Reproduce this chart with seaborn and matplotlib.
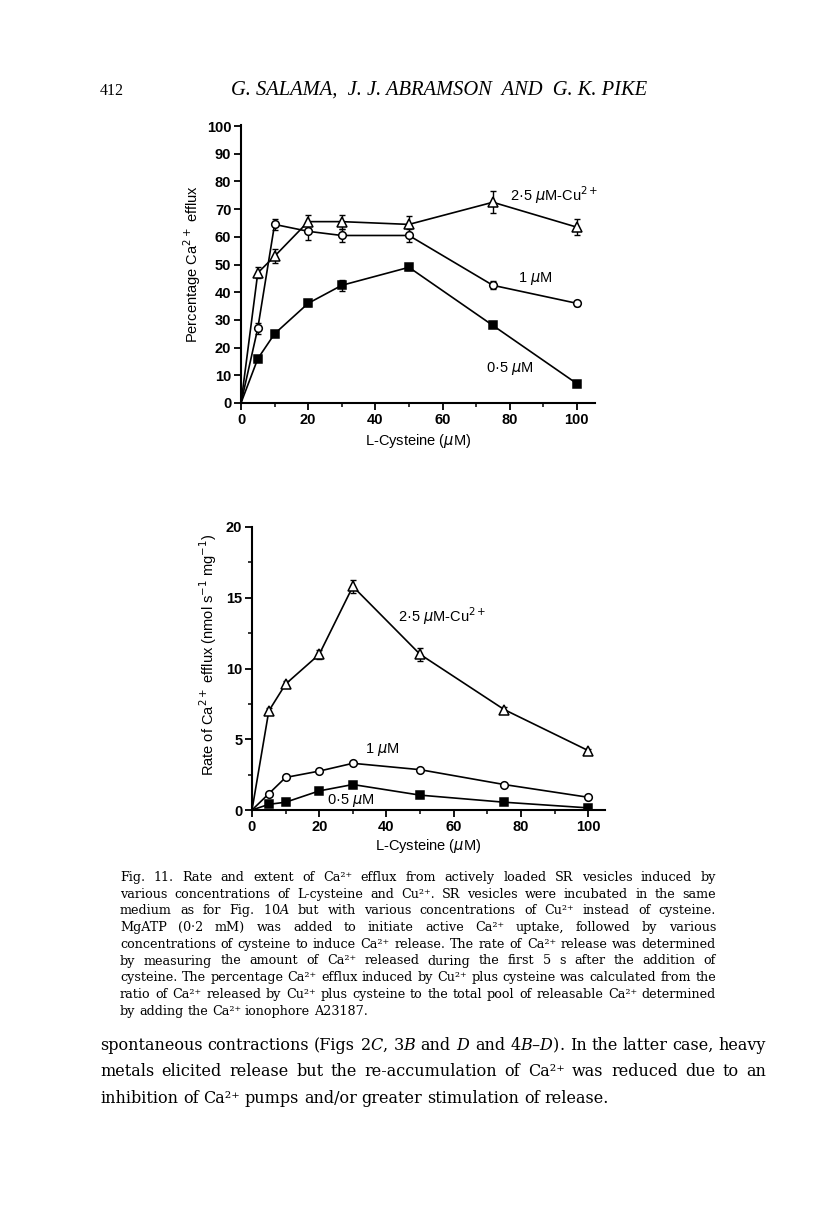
import numpy as np
import pandas as pd
import matplotlib
matplotlib.use("Agg")
import matplotlib.pyplot as plt
import seaborn as sns
from matplotlib.ticker import MultipleLocator

# Data
cys = [0, 5, 10, 20, 30, 50, 75, 100]

# Panel A: percentage Ca2+ efflux
pct_25 = [0, 47, 53, 65.5, 65.5, 64.5, 72.5, 63.5]
pct_25_err = [0, 2, 2.5, 2.5, 2.5, 3, 4, 3]
pct_1 = [0, 27, 64.5, 62, 60.5, 60.5, 42.5, 36]
pct_1_err = [0, 2, 2, 3, 2.5, 2.5, 1.5, 1]
pct_05 = [0, 16, 25, 36, 42.5, 49, 28, 7]
pct_05_err = [0, 0, 0, 1, 2, 1, 0, 0]

# Panel B: rate of Ca2+ efflux
rate_25 = [0, 7.0, 8.9, 11.0, 15.8, 11.0, 7.1, 4.2]
rate_25_err = [0, 0.2, 0.2, 0.3, 0.45, 0.45, 0.2, 0.1]
rate_1 = [0, 1.15, 2.3, 2.75, 3.3, 2.85, 1.8, 0.9]
rate_05 = [0, 0.4, 0.55, 1.35, 1.8, 1.05, 0.55, 0.15]

series_names = ["2·5 $\\mu$M-Cu$^{2+}$", "1 $\\mu$M", "0·5 $\\mu$M"]

caption_lines = [
    "Fig. 11. Rate and extent of Ca²⁺ efflux from actively loaded SR vesicles induced by",
    "various concentrations of L-cysteine and Cu²⁺. SR vesicles were incubated in the same",
    "medium as for Fig. 10$A$ but with various concentrations of Cu²⁺ instead of cysteine.",
    "MgATP (0·2 mM) was added to initiate active Ca²⁺ uptake, followed by various",
    "concentrations of cysteine to induce Ca²⁺ release. The rate of Ca²⁺ release was determined",
    "by measuring the amount of Ca²⁺ released during the first 5 s after the addition of",
    "cysteine. The percentage Ca²⁺ efflux induced by Cu²⁺ plus cysteine was calculated from the",
    "ratio of Ca²⁺ released by Cu²⁺ plus cysteine to the total pool of releasable Ca²⁺ determined",
    "by adding the Ca²⁺ ionophore A23187.",
]
body_lines = [
    "spontaneous contractions (Figs 2$C$, 3$B$ and $D$ and 4$B$–$D$). In the latter case, heavy",
    "metals elicited release but the re-accumulation of Ca²⁺ was reduced due to an",
    "inhibition of Ca²⁺ pumps and/or greater stimulation of release.",
]

W, H = 816, 1206
SANS = "Liberation Sans"
SERIF = ["Liberation Serif", "DejaVu Serif"]
TEXT_SERIF = ["DejaVu Serif"]

sns.set_style("ticks")
plt.rcParams["font.family"] = [SANS, "DejaVu Sans"]
plt.rcParams["mathtext.fontset"] = "dejavusans"
plt.rcParams["text.color"] = "black"
plt.rcParams["axes.labelcolor"] = "black"

fig = plt.figure(figsize=(W / 100, H / 100), dpi=100)


def px_axes(left, top, right, bottom):
    return fig.add_axes([left / W, 1 - bottom / H, (right - left) / W, (bottom - top) / H])


def style_axes(ax):
    sns.despine(ax=ax)
    for s in ("left", "bottom"):
        ax.spines[s].set_linewidth(1.5)
        ax.spines[s].set_color("black")
    ax.tick_params(which="major", direction="out", length=5, width=1.3,
                   labelsize=10.5, colors="black", pad=2)
    ax.tick_params(which="minor", direction="out", length=3, width=1.1, colors="black")
    for lab in ax.get_xticklabels() + ax.get_yticklabels():
        lab.set_fontweight("bold")
    ax.set_facecolor("white")


def draw_series(ax, y, err, marker, face, ms):
    sns.lineplot(x=cys, y=y, ax=ax, color="black", linewidth=1.2,
                 marker=marker, markerfacecolor=face, markeredgecolor="black",
                 markeredgewidth=1.1, markersize=ms, markevery=list(range(1, len(cys))),
                 zorder=3)
    if err is not None:
        ax.errorbar(cys[1:], y[1:], yerr=err[1:], fmt="none", ecolor="black",
                    elinewidth=1.0, capsize=2.5, capthick=1.0, zorder=2)


# ---- Panel A ----
axA = px_axes(241, 125, 595, 403)
draw_series(axA, pct_25, pct_25_err, "^", "white", 6.5)
draw_series(axA, pct_1, pct_1_err, "o", "white", 5.5)
draw_series(axA, pct_05, pct_05_err, "s", "black", 5.5)
axA.set_xlim(0, 105.4)
axA.set_ylim(0, 100.4)
axA.set_xticks(range(0, 101, 20))
axA.xaxis.set_minor_locator(MultipleLocator(10))
axA.set_yticks(range(0, 101, 10))
style_axes(axA)
axA.set_xlabel("L-Cysteine ($\\mu$M)", fontsize=10.5)
axA.set_ylabel("Percentage Ca$^{2+}$ efflux", fontsize=10.5)
axA.xaxis.set_label_coords(0.5, -29 / 278)
axA.yaxis.set_label_coords(-38 / 354, 0.5)
axA.text(80, 75, series_names[0], fontsize=10.5, va="center")
axA.text(82.5, 45, series_names[1], fontsize=10.5, va="center")
axA.text(73, 12.6, series_names[2], fontsize=10.5, va="center")

# ---- Panel B ----
axB = px_axes(252, 527, 605, 810)
draw_series(axB, rate_25, rate_25_err, "^", "white", 6.5)
draw_series(axB, rate_1, None, "o", "white", 5.5)
draw_series(axB, rate_05, None, "s", "black", 5.5)
axB.set_xlim(0, 105)
axB.set_ylim(0, 20)
axB.set_xticks(range(0, 101, 20))
axB.xaxis.set_minor_locator(MultipleLocator(10))
axB.set_yticks(range(0, 21, 5))
axB.yaxis.set_minor_locator(MultipleLocator(2.5))
style_axes(axB)
axB.set_xlabel("L-Cysteine ($\\mu$M)", fontsize=10.5)
axB.set_ylabel("Rate of Ca$^{2+}$ efflux (nmol s$^{-1}$ mg$^{-1}$)", fontsize=10.5)
axB.xaxis.set_label_coords(0.5, -27 / 283)
axB.yaxis.set_label_coords(-33 / 353, 0.548)
axB.text(43.5, 13.7, series_names[0], fontsize=10.5, va="center")
axB.text(33.7, 4.25, series_names[1], fontsize=10.5, va="center")
axB.text(22.4, 0.7, series_names[2], fontsize=10.5, va="center")

# ---- page text ----
renderer = fig.canvas.get_renderer()


def justified(lines, x0, x1, y0, step, space=0.3):
    # pick the font size so the longest line just fits at normal word spacing
    probe = 10.0
    need = 0
    for line in lines[:-1]:
        ws = [fig.text(0, 0, w, fontsize=probe, family=TEXT_SERIF, math_fontfamily="dejavuserif")
              for w in line.split(" ")]
        tot = sum(t.get_window_extent(renderer).width for t in ws)
        tot += (len(ws) - 1) * space * probe * 100 / 72
        need = max(need, tot)
        for t in ws:
            t.remove()
    size = probe * (x1 - x0) / need
    for i, line in enumerate(lines):
        words = line.split(" ")
        y = 1 - (y0 + i * step) / H
        texts = [fig.text(0, y, w, fontsize=size, family=TEXT_SERIF, va="baseline",
                          math_fontfamily="dejavuserif", color="black") for w in words]
        widths = [t.get_window_extent(renderer).width for t in texts]
        if i == len(lines) - 1:
            gap = space * size * 100 / 72
        else:
            gap = (x1 - x0 - sum(widths)) / (len(words) - 1)
        x = x0
        for t, w in zip(texts, widths):
            t.set_x(x / W)
            x += w + gap


fig.text(100 / W, 1 - 95 / H, "412", fontsize=11.5, family=SERIF, va="baseline")
fig.text(439 / W, 1 - 95 / H, "G. SALAMA,  J. J. ABRAMSON  AND  G. K. PIKE",
         fontsize=14.8, family=SERIF, style="italic", ha="center", va="baseline")

justified(caption_lines, 120, 716, 881, 16.7)
justified(body_lines, 100, 766, 1050, 26.5)

fig.savefig("out.png", dpi=100, facecolor="white")
